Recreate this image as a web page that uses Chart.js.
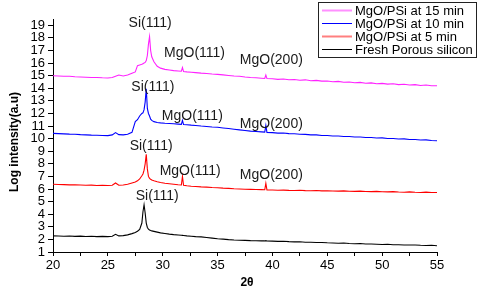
<!DOCTYPE html>
<html>
<head>
<meta charset="utf-8">
<script src="https://cdn.jsdelivr.net/npm/chart.js@4.4.0/dist/chart.umd.min.js"></script>
<style>
  html, body { margin: 0; padding: 0; background: #fff; }
  #wrap { width: 480px; height: 293px; }
</style>
</head>
<body>
<div id="wrap"><canvas id="xrd"></canvas></div>
<script>
// 2-theta grid shared by all four scans
const twoTheta = [
  20, 20.5, 21, 21.5, 22, 22.5, 23, 23.5, 24, 24.5, 25,
  25.4, 25.7, 26, 26.4, 26.8, 27.2,
  27.5, 27.7, 27.9, 28.1,
  28.2, 28.3, 28.4, 28.5, 28.6, 28.7, 28.8, 28.9, 29,
  29.2, 29.5, 29.8, 30.2, 30.6, 31, 31.4,
  31.7, 31.8, 31.9,
  32.2, 32.6, 33,
  33.5, 34, 34.5, 35, 35.5, 36, 36.5, 37, 37.5, 38, 38.5, 39,
  39.3, 39.4, 39.5,
  40, 40.5, 41, 41.5, 42, 42.5, 43, 43.5, 44, 44.5, 45, 45.5, 46, 46.5, 47, 47.5,
  48, 48.5, 49, 49.5, 50, 50.5, 51, 51.5, 52, 52.5, 53, 53.5, 54, 54.5, 55
];

const psi15 = [
  15.0, 14.98, 14.96, 14.95, 14.92, 14.9, 14.88, 14.85, 14.85, 14.83, 14.82,
  14.85, 14.95, 15.05, 14.98, 15.05, 15.2,
  15.3, 15.8, 15.85, 15.9,
  15.95, 16.0, 16.05, 16.2, 16.6, 17.5, 18.1, 17.0, 16.5,
  16.1, 15.75, 15.6, 15.5, 15.45, 15.4, 15.37,
  15.35, 15.65, 15.33,
  15.3, 15.27, 15.24,
  15.2, 15.17, 15.13, 15.1, 15.06, 15.02, 14.98, 14.95, 14.9, 14.86, 14.83, 14.8,
  14.78, 15.05, 14.77,
  14.75, 14.71, 14.74, 14.68, 14.7, 14.64, 14.67, 14.6, 14.63, 14.57, 14.58, 14.52, 14.55, 14.48, 14.5, 14.44,
  14.47, 14.4, 14.43, 14.36, 14.39, 14.33, 14.36, 14.29, 14.32, 14.26, 14.29, 14.22, 14.26, 14.2, 14.2
];

const psi10 = [
  10.42, 10.4, 10.38, 10.36, 10.35, 10.32, 10.3, 10.28, 10.27, 10.25, 10.24,
  10.3, 10.48, 10.32, 10.3, 10.35, 10.5,
  11.35, 11.5, 11.8, 12.0,
  12.05, 12.3, 12.9, 13.95, 12.4, 12.0, 11.8, 11.55, 11.45,
  11.35, 11.28, 11.25, 11.22, 11.2, 11.18, 11.15,
  11.13, 11.45, 11.12,
  11.1, 11.07, 11.05,
  11.0, 10.97, 10.93, 10.9, 10.85, 10.8, 10.75, 10.7, 10.65, 10.6, 10.57, 10.54,
  10.52, 11.05, 10.5,
  10.48, 10.44, 10.45, 10.4, 10.39, 10.35, 10.34, 10.3, 10.3, 10.25, 10.25, 10.21, 10.21, 10.17, 10.17, 10.13,
  10.13, 10.09, 10.09, 10.05, 10.06, 10.01, 10.01, 9.97, 9.98, 9.93, 9.93, 9.89, 9.9, 9.85, 9.83
];

const psi5 = [
  6.38, 6.36, 6.35, 6.33, 6.34, 6.32, 6.3, 6.31, 6.28, 6.3, 6.28,
  6.3, 6.48, 6.3, 6.32, 6.38, 6.48,
  6.55, 6.65, 6.8, 7.05,
  7.2, 7.5, 8.0, 8.75, 7.6, 7.0, 6.85, 6.78, 6.72,
  6.65, 6.58, 6.52, 6.46, 6.42, 6.38, 6.34,
  6.32, 7.0, 6.3,
  6.26, 6.22, 6.2,
  6.17, 6.15, 6.12, 6.1, 6.07, 6.05, 6.02, 6.0, 5.98, 5.97, 5.96, 5.95,
  5.94, 6.45, 5.93,
  5.92, 5.9, 5.91, 5.89, 5.88, 5.9, 5.87, 5.86, 5.88, 5.85, 5.86, 5.84, 5.83, 5.85, 5.82, 5.81,
  5.83, 5.8, 5.79, 5.81, 5.78, 5.77, 5.79, 5.76, 5.75, 5.77, 5.74, 5.73, 5.75, 5.72, 5.73
];

const freshPSi = [
  2.28, 2.27, 2.25, 2.27, 2.24, 2.26, 2.23, 2.25, 2.22, 2.24, 2.22,
  2.25, 2.40, 2.28, 2.30, 2.36, 2.46,
  2.55, 2.65, 2.8, 3.3,
  4.2, 4.75, 4.1, 3.3, 2.95, 2.82, 2.75, 2.7, 2.68,
  2.64, 2.58, 2.52, 2.47, 2.42, 2.38, 2.35,
  2.33, 2.32, 2.31,
  2.28, 2.25, 2.22,
  2.2, 2.15, 2.1, 2.05, 2.02, 1.98, 1.95, 1.93, 1.92, 1.9, 1.89, 1.88,
  1.88, 1.9, 1.87,
  1.86, 1.84, 1.85, 1.82, 1.8, 1.81, 1.78, 1.77, 1.75, 1.76, 1.73, 1.72, 1.7, 1.71, 1.68, 1.66,
  1.67, 1.64, 1.63, 1.62, 1.6, 1.61, 1.58, 1.57, 1.56, 1.55, 1.56, 1.53, 1.52, 1.53, 1.5
];

const yTickValues = [1, 2, 3, 4, 5, 6, 7, 8, 9, 10, 11, 12, 13, 14, 15, 16, 17, 18, 19];

const seriesNames = ['MgO/PSi at 15 min', 'MgO/PSi at 10 min', 'MgO/PSi at 5 min', 'Fresh Porous silicon'];
const seriesColors = ['#ff22ff', '#0000ff', '#ff0000', '#000000'];
const seriesValues = [psi15, psi10, psi5, freshPSi];

// peak labels: text and where they sit (2θ, intensity)
const peakText = ['Si(111)', 'MgO(111)', 'MgO(200)',
                  'Si(111)', 'MgO(111)', 'MgO(200)',
                  'Si(111)', 'MgO(111)', 'MgO(200)',
                  'Si(111)'];
const peakX = [28.85, 32.9, 39.9, 29.1, 32.7, 39.9, 28.95, 32.5, 39.9, 29.5];
const peakY = [19.18, 16.8, 16.2, 14.1, 11.75, 11.12, 9.37, 7.45, 7.1, 5.42];

const FONT = '"Liberation Sans", Arial, sans-serif';

// draws the peak labels, axis titles and the boxed legend
const decorations = {
  id: 'decorations',
  afterDraw(chart) {
    const ctx = chart.ctx;
    const xs = chart.scales.x, ys = chart.scales.y;
    ctx.save();

    ctx.fillStyle = '#1a1a1a';
    ctx.font = '14px ' + FONT;
    ctx.textAlign = 'center';
    ctx.textBaseline = 'middle';
    peakText.forEach((t, i) => {
      ctx.fillText(t, xs.getPixelForValue(peakX[i]), ys.getPixelForValue(peakY[i]));
    });

    // axis titles
    ctx.fillStyle = '#000';
    ctx.font = 'bold 12px ' + FONT;
    ctx.fillText('2θ', 247, 283);
    ctx.save();
    ctx.translate(15, 142);
    ctx.rotate(-Math.PI / 2);
    ctx.fillText('Log intensity(a.u)', 0, 0);
    ctx.restore();

    // legend
    ctx.strokeStyle = '#222';
    ctx.lineWidth = 1;
    ctx.strokeRect(318.5, 2.5, 158, 55);
    ctx.font = '13px ' + FONT;
    ctx.textAlign = 'left';
    seriesNames.forEach((name, i) => {
      const y = 10 + i * 13;
      ctx.strokeStyle = seriesColors[i];
      ctx.lineWidth = i === 1 || i === 3 ? 1 : 2;
      ctx.globalAlpha = i === 1 || i === 3 ? 1 : 0.5;
      ctx.beginPath();
      ctx.moveTo(322, y + 0.5);
      ctx.lineTo(352, y + 0.5);
      ctx.stroke();
      ctx.globalAlpha = 1;
      ctx.fillStyle = '#000';
      ctx.fillText(name, 355, y + 1);
    });
    ctx.restore();
  }
};

window.onload = function() {
  const ctx = document.getElementById('xrd').getContext('2d');
  new Chart(ctx, {
    type: 'line',
    data: {
      datasets: seriesValues.map((vals, i) => ({
        label: seriesNames[i],
        data: twoTheta.map((x, j) => ({ x: x, y: vals[j] })),
        borderColor: seriesColors[i],
        borderWidth: 1.1,
        pointRadius: 0,
        tension: 0,
        fill: false
      }))
    },
    options: {
      responsive: true,
      maintainAspectRatio: false,
      animation: false,
      layout: { padding: { top: 19, right: 43, left: 0, bottom: 0 } },
      plugins: {
        legend: { display: false },
        tooltip: { enabled: false }
      },
      scales: {
        x: {
          type: 'linear',
          min: 20,
          max: 55,
          afterFit(scale) { scale.height = 41; },
          border: { display: true, color: '#000', width: 1 },
          grid: { drawOnChartArea: false, drawTicks: true, tickLength: 4, color: '#000' },
          ticks: {
            stepSize: 2.5,
            autoSkip: false,
            padding: 2,
            color: '#000',
            font: { family: FONT, size: 13 },
            maxRotation: 0,
            callback: v => (v % 5 === 0 ? v : '')
          }
        },
        y: {
          min: 1,
          max: 19.5,
          afterFit(scale) { scale.width = 53; },
          afterBuildTicks(scale) {
            scale.ticks = yTickValues.map(v => ({ value: v }));
          },
          border: { display: true, color: '#000', width: 1 },
          grid: { drawOnChartArea: false, drawTicks: true, tickLength: 5, color: '#000' },
          ticks: {
            autoSkip: false,
            padding: 3,
            color: '#000',
            font: { family: FONT, size: 13 }
          }
        }
      }
    },
    plugins: [decorations]
  });
};
</script>
</body>
</html>
